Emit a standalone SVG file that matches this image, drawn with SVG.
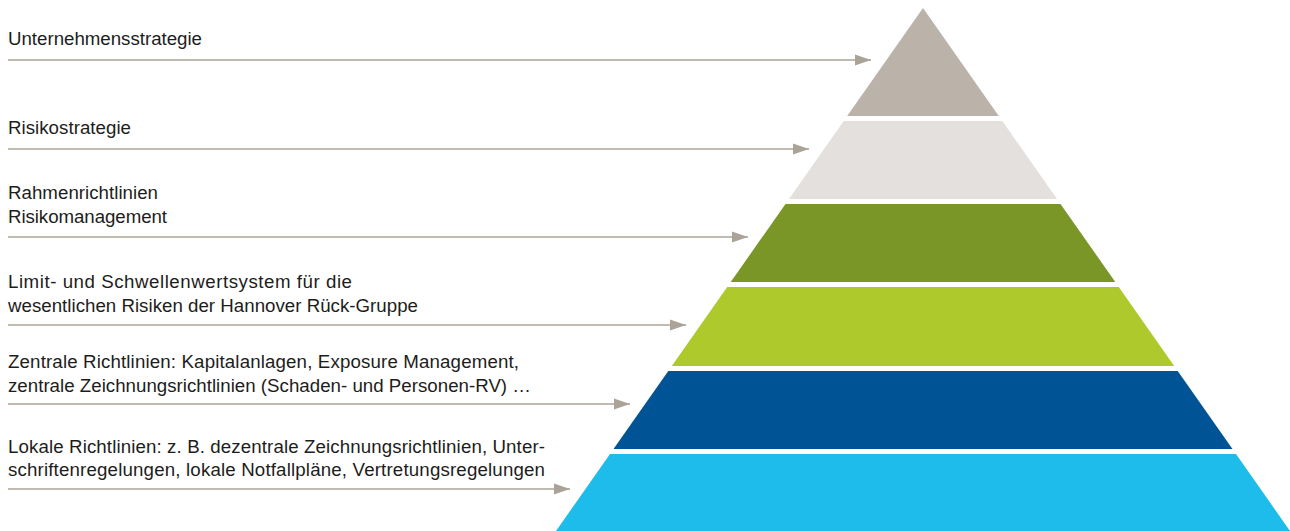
<svg xmlns="http://www.w3.org/2000/svg" width="1290" height="531" viewBox="0 0 1290 531">
<style>
text{font-family:"Liberation Sans",Arial,sans-serif;font-size:18.7px;fill:#1d1d1b}
.c{stroke:#aba397;stroke-width:1.6;fill:none}
</style>
<defs>
<marker id="ah" markerUnits="userSpaceOnUse" markerWidth="17" markerHeight="12" refX="16" refY="6" orient="auto">
<path d="M0,0.5 L16,6 L0,11.5 Z" fill="#aba397"/>
</marker>
</defs>
<rect width="1290" height="531" fill="#fff"/>
<g id="layer1"><polygon points="923,8 998.8,116 847.2,116" fill="#bbb2a9"/></g>
<g id="layer2"><polygon points="843.7,121 1002.3,121 1057,199 789,199" fill="#e3e0dd"/></g>
<g id="layer3"><polygon points="785.5,204 1060.5,204 1115.3,282 730.7,282" fill="#7a9626"/></g>
<g id="layer4"><polygon points="727.2,287 1118.8,287 1174.2,366 671.8,366" fill="#adc92b"/></g>
<g id="layer5"><polygon points="668.3,371 1177.7,371 1232.5,449 613.5,449" fill="#005495"/></g>
<g id="layer6"><polygon points="610,454 1236,454 1290,531 556,531" fill="#1dbcea"/></g>
<g id="label1"><text x="8" y="45" textLength="194" lengthAdjust="spacing">Unternehmensstrategie</text></g>
<g id="label2"><text x="8" y="134" textLength="123" lengthAdjust="spacing">Risikostrategie</text></g>
<g id="label3"><text x="8" y="199" textLength="150" lengthAdjust="spacing">Rahmenrichtlinien</text><text x="8" y="222.5" textLength="159" lengthAdjust="spacing">Risikomanagement</text></g>
<g id="label4"><text x="8" y="288" textLength="344" lengthAdjust="spacing">Limit- und Schwellenwertsystem für die</text><text x="8" y="311.5" textLength="410" lengthAdjust="spacing">wesentlichen Risiken der Hannover Rück-Gruppe</text></g>
<g id="label5"><text x="8" y="368" textLength="511" lengthAdjust="spacing">Zentrale Richtlinien: Kapitalanlagen, Exposure Management,</text><text x="8" y="391.5" textLength="523" lengthAdjust="spacing">zentrale Zeichnungsrichtlinien (Schaden- und Personen-RV) …</text></g>
<g id="label6"><text x="8" y="452.5" textLength="537" lengthAdjust="spacing">Lokale Richtlinien: z. B. dezentrale Zeichnungsrichtlinien, Unter-</text><text x="8" y="476" textLength="537" lengthAdjust="spacing">schriftenregelungen, lokale Notfallpläne, Vertretungsregelungen</text></g>
<g id="connectors">
<line class="c" x1="8" y1="60" x2="871" y2="60" marker-end="url(#ah)"/>
<line class="c" x1="8" y1="149" x2="809" y2="149" marker-end="url(#ah)"/>
<line class="c" x1="8" y1="237" x2="748" y2="237" marker-end="url(#ah)"/>
<line class="c" x1="8" y1="325" x2="686" y2="325" marker-end="url(#ah)"/>
<line class="c" x1="8" y1="404" x2="630" y2="404" marker-end="url(#ah)"/>
<line class="c" x1="8" y1="489" x2="570" y2="489" marker-end="url(#ah)"/>
</g>
</svg>
